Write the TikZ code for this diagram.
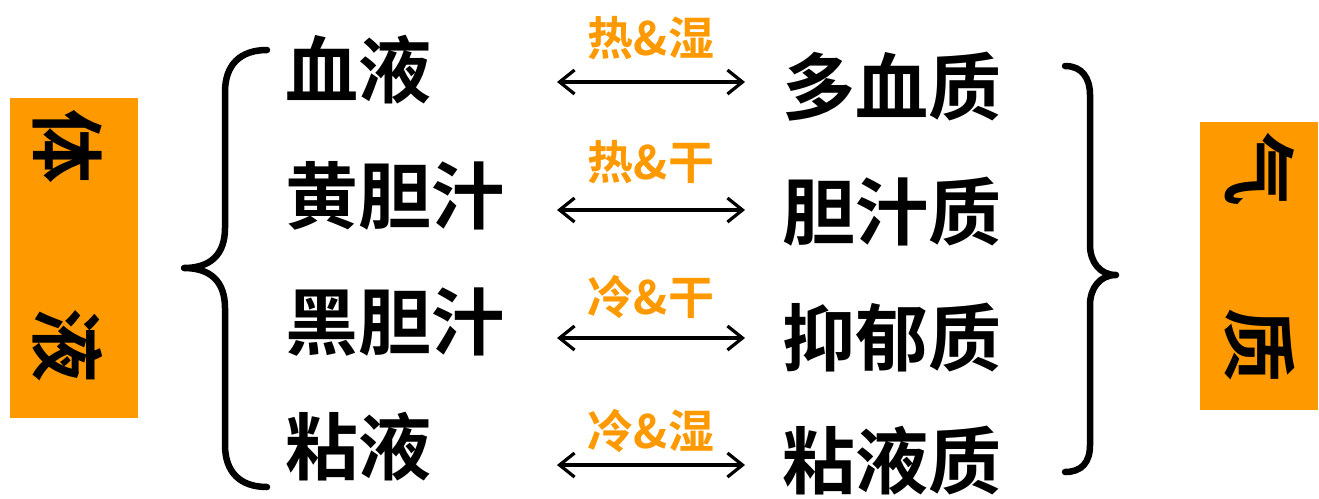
\documentclass[tikz,border=0pt]{standalone}
\usepackage{fontspec}
\usetikzlibrary{arrows.meta}
\newfontfamily\cjk{Noto Sans CJK SC Bold}
\definecolor{myorange}{HTML}{FF9900}
\tikzset{
  big/.style={font=\cjk\fontsize{73}{78}\selectfont, inner sep=0pt, text=black},
  lab/.style={font=\cjk\fontsize{46}{50}\selectfont, inner sep=0pt, text=myorange},
  boxchar/.style={font=\cjk\fontsize{74}{78}\selectfont, inner sep=0pt, rotate=-90},
  obox/.style={fill=myorange, draw=none},
  brace/.style={line width=6.5pt, line cap=round, line join=round},
  dblarrow/.style={line width=3.2pt, {Straight Barb[length=15pt,width=24pt,line width=3.2pt]}-{Straight Barb[length=15pt,width=24pt,line width=3.2pt]}}
}
\begin{document}
\begin{tikzpicture}[x=1pt,y=-1pt]
\useasboundingbox (0,0) rectangle (1319,498);
% orange boxes
\fill[obox] (10,98) rectangle (138,418);
\fill[obox] (1200,122) rectangle (1318,410);
\node[boxchar] (ti) at (68,146) {体};
\node[boxchar] (ye) at (68,345) {液};
\node[boxchar] (qi) at (1260,169) {气};
\node[boxchar] (zhi) at (1260,345) {质};
% braces
\draw[brace] (267,50) .. controls (240,50) and (225,65) .. (225,92) -- (225,228)
  .. controls (225,255) and (210,268) .. (184,268)
  .. controls (210,268) and (225,281) .. (225,308) -- (225,445)
  .. controls (225,472) and (240,487) .. (267,487);
\draw[brace] (1065,66) .. controls (1082,66) and (1090,78) .. (1090,95) -- (1090,245)
  .. controls (1090,262) and (1100,275) .. (1116,275)
  .. controls (1100,275) and (1090,288) .. (1090,305) -- (1090,445)
  .. controls (1090,462) and (1082,472) .. (1065,472);
% left column
\node[big, anchor=west] (l1) at (285,70) {血液};
\node[big, anchor=west] (l2) at (285,196) {黄胆汁};
\node[big, anchor=west] (l3) at (285,322) {黑胆汁};
\node[big, anchor=west] (l4) at (285,447) {粘液};
% right column
\node[big, anchor=west] (r1) at (782,87) {多血质};
\node[big, anchor=west] (r2) at (782,212) {胆汁质};
\node[big, anchor=west] (r3) at (782,338) {抑郁质};
\node[big, anchor=west] (r4) at (782,461) {粘液质};
% labels
\node[lab] (t1) at (651,38) {热\&湿};
\node[lab] (t2) at (651,162) {热\&干};
\node[lab] (t3) at (651,297) {冷\&干};
\node[lab] (t4) at (651,431) {冷\&湿};
% arrows
\coordinate (a1l) at (557,82);  \coordinate (a1r) at (745,82);
\coordinate (a2l) at (557,210); \coordinate (a2r) at (745,210);
\coordinate (a3l) at (557,338); \coordinate (a3r) at (745,338);
\coordinate (a4l) at (557,465); \coordinate (a4r) at (745,465);
\draw[dblarrow] (a1l) -- (a1r);
\draw[dblarrow] (a2l) -- (a2r);
\draw[dblarrow] (a3l) -- (a3r);
\draw[dblarrow] (a4l) -- (a4r);
\end{tikzpicture}
\end{document}
